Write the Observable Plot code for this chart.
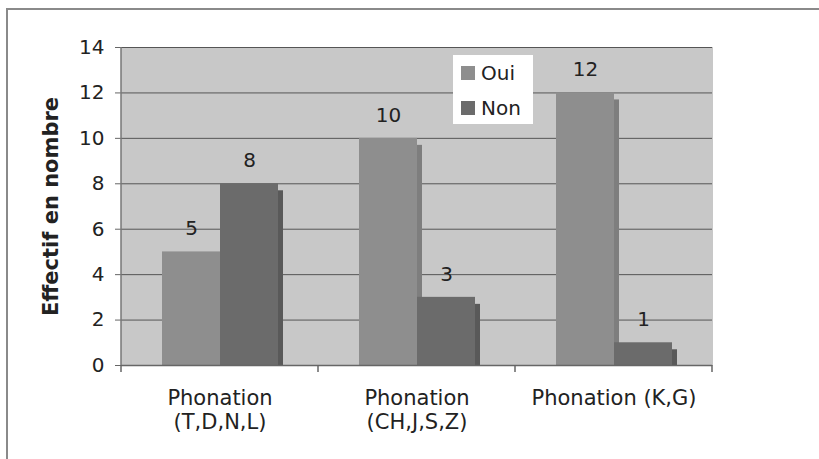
<!DOCTYPE html>
<html><head><meta charset="utf-8">
<script src="https://cdn.jsdelivr.net/npm/d3@7"></script>
<script src="https://cdn.jsdelivr.net/npm/@observablehq/plot@0.6"></script>
<style>
html,body{margin:0;padding:0;background:#fff;}
#wrap{position:relative;width:819px;height:459px;overflow:hidden;font-family:"DejaVu Sans",sans-serif;}
#border{position:absolute;left:6px;top:8px;width:900px;height:600px;border-top:2px solid #8a8a8a;border-left:2px solid #8a8a8a;}
#chart{position:absolute;left:0;top:0;}
#legend{position:absolute;left:453px;top:55px;width:80px;height:69px;background:#fff;box-sizing:border-box;padding-left:8px;}
#legend .lg-swatches{font-family:"DejaVu Sans",sans-serif !important;font-size:20px !important;color:#222 !important;margin:0 !important;min-height:0 !important;}
#legend .lg-swatch{height:35px;padding:0 !important;display:flex;align-items:center;}
#legend .lg-swatch svg{margin-right:6px !important;}
</style></head><body>
<div id="wrap"><div id="border"></div><div id="chart"></div><div id="legend"></div></div>
<script>
const categories = ["Phonation (T,D,N,L)", "Phonation (CH,J,S,Z)", "Phonation (K,G)"];
const tickLabels = ["Phonation\n(T,D,N,L)", "Phonation\n(CH,J,S,Z)", "Phonation (K,G)"];
const series = ["Oui", "Non"];
const ouiValues = [5, 10, 12];
const nonValues = [8, 3, 1];
const yTicks = [0, 2, 4, 6, 8, 10, 12, 14];
const yLabel = "Effectif en nombre";
const colors = ["#8e8e8e", "#6b6b6b"];
const shadowColors = ["#7e7e7e", "#595959"];

const data = categories.flatMap((c, i) => [
  {category: c, series: "Oui", value: ouiValues[i]},
  {category: c, series: "Non", value: nonValues[i]}
]);

const plot = Plot.plot({
  width: 819, height: 459,
  marginLeft: 120, marginRight: 106, marginTop: 47, marginBottom: 94,
  style: {fontFamily: "DejaVu Sans, sans-serif", fontSize: "20px", background: "transparent", color: "#222", overflow: "visible"},
  fx: {domain: categories, padding: 0, label: null, axis: null},
  x: {domain: series, paddingInner: 0, paddingOuter: 0.69, axis: null},
  y: {domain: [0, 14], label: null},
  color: {domain: series, range: colors},
  marks: [
    Plot.frame({fill: "#c8c8c8", stroke: "#c8c8c8"}),
    Plot.gridY(yTicks, {stroke: "#555", strokeOpacity: 1, strokeWidth: 1}),
    ...series.map((s, k) => Plot.barY(data.filter(d => d.series === s),
      {fx: "category", x: "series", y: "value", fill: shadowColors[k], dx: 5, insetTop: 7})),
    Plot.barY(data, {fx: "category", x: "series", y: "value", fill: "series"}),
    Plot.text(data, {fx: "category", x: "series", y: "value", text: d => String(d.value), dy: -23, fontSize: 20, fill: "#222"}),
    Plot.ruleY([0], {stroke: "#666", strokeWidth: 1.5}),
    Plot.axisY({ticks: yTicks, tickSize: 6, tickPadding: 11, fontSize: 20, label: null, stroke: "#666"}),
    Plot.text([yLabel], {fx: [categories[0]], text: d => d, frameAnchor: "left", textAnchor: "middle", rotate: -90, dx: -70, fontSize: 21, fontWeight: "bold", fill: "#222"}),
    Plot.axisFx({anchor: "bottom", tickSize: 0, tickPadding: 22, fontSize: 21, lineHeight: 1.15, label: null, tickFormat: c => tickLabels[categories.indexOf(c)]})
  ]
});
document.getElementById("chart").appendChild(plot);

// left axis line and category boundary ticks from the plot's own scales
const fx = plot.scale("fx"), y = plot.scale("y");
const svg = d3.select(plot);
const edges = categories.map(c => fx.apply(c)).concat([fx.apply(categories[categories.length - 1]) + fx.bandwidth]);
const y0 = y.apply(0), yTop = y.apply(14);
svg.append("line").attr("x1", edges[0]).attr("x2", edges[0]).attr("y1", yTop).attr("y2", y0).attr("stroke", "#777").attr("stroke-width", 1.5);
svg.append("g").selectAll("line").data(edges).join("line")
  .attr("x1", d => d).attr("x2", d => d).attr("y1", y0).attr("y2", y0 + 7)
  .attr("stroke", "#666").attr("stroke-width", 1.5);

const legend = Plot.legend({color: {domain: series, range: colors}, legend: "swatches", columns: 1, swatchSize: 14, className: "lg"});
document.getElementById("legend").appendChild(legend);
</script>
</body></html>
